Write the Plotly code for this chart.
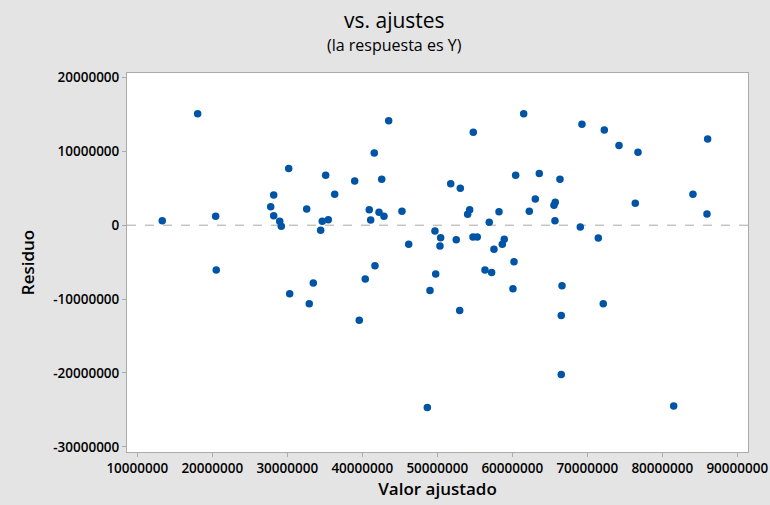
import plotly.graph_objects as go

# Fitted values (Valor ajustado) and residuals (Residuo), in millions
fitted_m = [13.33, 18.05, 20.45, 20.53, 27.79, 28.19, 28.19, 28.99, 29.2, 30.19,
            30.32, 32.59, 32.93, 33.47, 34.45, 34.67, 35.47, 35.12, 36.32, 38.99,
            39.6, 40.4, 40.93, 41.12, 41.6, 41.69, 42.23, 42.59, 42.89, 43.52,
            45.29, 46.19, 48.67, 49.03, 49.69, 49.79, 50.36, 50.45, 51.79, 52.53,
            52.99, 53.07, 54.05, 54.32, 54.76, 54.8, 55.33, 56.36, 56.93, 57.25,
            57.56, 58.23, 58.67, 58.93, 60.09, 60.23, 60.45, 61.52, 62.27, 63.07,
            63.6, 65.56, 65.73, 65.69, 66.36, 66.63, 66.53, 66.53, 69.07, 69.29,
            71.47, 72.13, 72.27, 74.23, 76.4, 76.76, 81.52, 84.09, 85.96, 86.05]
residual_m = [0.61, 15.1, 1.2, -6.07, 2.51, 4.09, 1.29, 0.53, -0.15, 7.66,
              -9.28, 2.2, -10.63, -7.83, -0.7, 0.53, 0.75, 6.76, 4.19, 5.99,
              -12.85, -7.29, 2.1, 0.7, 9.78, -5.48, 1.75, 6.22, 1.2, 14.12,
              1.88, -2.59, -24.68, -8.83, -0.79, -6.61, -2.82, -1.69, 5.62, -1.96,
              -11.54, 5.0, 1.47, 2.1, -1.6, 12.59, -1.6, -6.07, 0.39, -6.39,
              -3.27, 1.83, -2.59, -1.91, -8.6, -4.94, 6.76, 15.1, 1.88, 3.55,
              6.98, 2.7, 3.1, 0.61, 6.22, -8.2, -12.21, -20.2, -0.24, 13.67,
              -1.73, -10.63, 12.9, 10.77, 2.97, 9.88, -24.46, 4.19, 1.52, 11.68]

fitted = [v * 1e6 for v in fitted_m]
residual = [v * 1e6 for v in residual_m]

x_tick_vals = [10000000, 20000000, 30000000, 40000000, 50000000,
               60000000, 70000000, 80000000, 90000000]
x_tick_text = ["10000000", "20000000", "30000000", "40000000", "50000000",
               "60000000", "70000000", "80000000", "90000000"]
y_tick_vals = [20000000, 10000000, 0, -10000000, -20000000, -30000000]
y_tick_text = ["20000000", "10000000", "0", "-10000000", "-20000000", "-30000000"]

REFERENCE_RESIDUAL = 0

FONT = "Open Sans"
BG = "#E4E4E4"
BORDER = "#ABABAB"

fig = go.Figure()
fig.add_trace(go.Scatter(
    x=fitted, y=residual, mode="markers",
    marker=dict(color="#0054A6", size=7.5, line=dict(width=0)),
    hoverinfo="x+y", showlegend=False,
))

fig.add_shape(type="line", xref="paper", x0=0, x1=1, yref="y",
              y0=REFERENCE_RESIDUAL, y1=REFERENCE_RESIDUAL,
              line=dict(color="#A8A8A8", width=1, dash="dash"), layer="below")

fig.update_layout(
    width=770, height=505,
    paper_bgcolor=BG, plot_bgcolor="white",
    margin=dict(l=127, r=22, t=73, b=53, autoexpand=False),
    font=dict(family=FONT, color="black"),
    annotations=[
        dict(text="vs. ajustes", xref="paper", yref="paper", x=0.43, y=1,
             xanchor="center", yanchor="bottom", yshift=37, showarrow=False,
             font=dict(family=FONT, size=21, color="black")),
        dict(text="(la respuesta es Y)", xref="paper", yref="paper", x=0.43, y=1,
             xanchor="center", yanchor="bottom", yshift=15, showarrow=False,
             font=dict(family=FONT, size=16, color="black")),
    ],
)

fig.update_xaxes(
    range=[8.63e6, 91.43e6], tickmode="array", tickvals=x_tick_vals, ticktext=x_tick_text,
    showgrid=False, zeroline=False, showline=True, mirror=True, automargin=False,
    linecolor=BORDER, linewidth=1, ticks="outside", ticklen=4, tickcolor=BORDER,
    tickfont=dict(family=FONT, size=13.5, color="black", weight=600),
    title=dict(text="Valor ajustado", standoff=6,
               font=dict(family=FONT, size=17, color="black", weight=600)),
)
fig.update_yaxes(
    range=[-30.7e6, 20.6e6], tickmode="array", tickvals=y_tick_vals, ticktext=y_tick_text,
    showgrid=False, zeroline=False, showline=True, mirror=True, automargin=False,
    linecolor=BORDER, linewidth=1, ticks="outside", ticklen=4, tickcolor=BORDER,
    tickfont=dict(family=FONT, size=13.5, color="black", weight=600),
    title=dict(text="Residuo", standoff=14,
               font=dict(family=FONT, size=17, color="black", weight=600)),
)

fig.write_html("out.html")
